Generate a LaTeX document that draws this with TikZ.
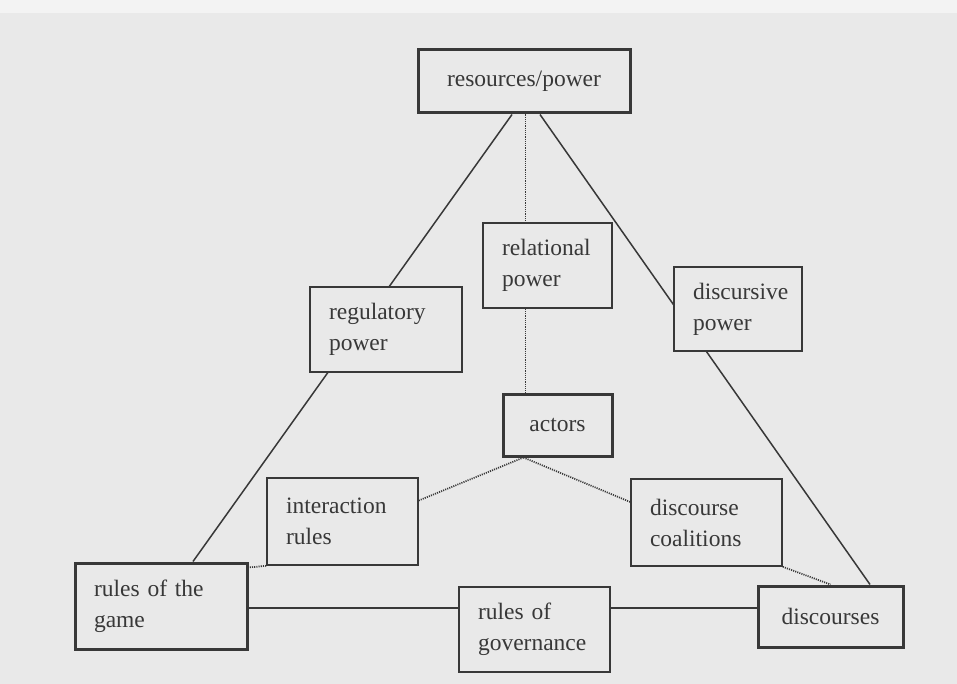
\documentclass[tikz,border=0pt]{standalone}
\usepackage{fontspec}
\setmainfont{Liberation Serif}
\usetikzlibrary{backgrounds}
\definecolor{pagebg}{HTML}{E9E9E9}
\definecolor{topband}{HTML}{F3F3F3}
\definecolor{ink}{HTML}{383838}
\definecolor{txt}{HTML}{383838}
\begin{document}
\begin{tikzpicture}[x=1pt,y=-1pt,
  box/.style={draw=ink, fill=pagebg, text=txt, font=\fontsize{23.5}{31}\selectfont, inner sep=0pt, rectangle},
  thickbox/.style={box, line width=3pt},
  thinbox/.style={box, line width=1.6pt},
  lbox/.style={inner xsep=19pt, align=left},
  conn/.style={draw=ink, line width=1.5pt},
  dotc/.style={draw=ink, line width=1.7pt, dash pattern=on 1.1pt off 1.1pt},
]
\useasboundingbox (0,0) rectangle (957,684);
% nodes
\node[thickbox, minimum width=212pt, minimum height=63pt] (res) at (524,81.5) {resources/power};
\node[thinbox, lbox, text width=91pt, minimum height=85pt] (rel) at (547.5,265.5) {relational\\power};
\node[thinbox, lbox, text width=114pt, minimum height=85pt] (reg) at (386,329.5) {regulatory\\power};
\node[thinbox, lbox, text width=90pt, minimum height=84pt] (dp) at (738,309) {discursive\\power};
\node[thickbox, minimum width=109pt, minimum height=62pt] (act) at (557.5,425) {actors};
\node[thinbox, lbox, text width=113pt, minimum height=87pt] (inter) at (342.5,521.5) {interaction\\rules};
\node[thinbox, lbox, text width=113pt, minimum height=87pt] (coal) at (706.5,522.5) {discourse\\coalitions};
\node[thickbox, lbox, text width=134pt, minimum height=86pt] (game) at (161,606) {rules of the\\game};
\node[thinbox, lbox, text width=113pt, minimum height=85pt] (gov) at (534.5,629.5) {rules of\\governance};
\node[thickbox, minimum width=145pt, minimum height=61pt] (dis) at (830.5,616.5) {discourses};
% connectors
\begin{pgfonlayer}{background}
\fill[pagebg] (0,0) rectangle (957,684);
\fill[topband] (0,0) rectangle (957,13);
\draw[conn] ([xshift=-12pt]res.south) -- ([xshift=32pt]game.north);
\draw[conn] ([xshift=16pt]res.south) -- ([xshift=39.5pt]dis.north);
\draw[dotc] ([xshift=1.5pt]res.south) -- ([xshift=-22pt]rel.north);
\draw[dotc] ([xshift=-22pt]rel.south) -- ([xshift=-32pt]act.north);
\draw[dotc] ([xshift=-34pt]act.south) -- ([yshift=21pt]inter.east);
\draw[dotc] ([xshift=-34pt]act.south) -- ([yshift=20.5pt]coal.west);
\draw[dotc] (inter.south west) -- ([yshift=-6pt]game.north east);
\draw[dotc] (coal.south east) -- (dis.north);
\draw[conn] ([yshift=-2pt]game.east) -- ([yshift=21.5pt]gov.west);
\draw[conn] ([yshift=21.5pt]gov.east) -- ([yshift=8.5pt]dis.west);
\end{pgfonlayer}
\end{tikzpicture}
\end{document}
